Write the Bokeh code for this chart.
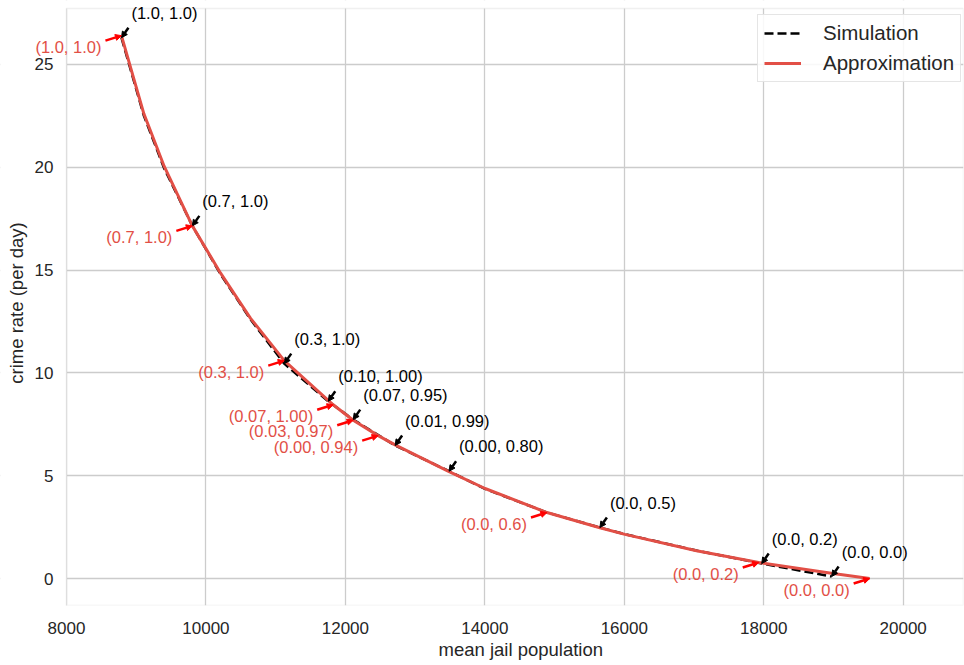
from bokeh.plotting import figure
from bokeh.models import (ColumnDataSource, Range1d, FixedTicker, Arrow, NormalHead,
                          Legend, LegendItem, Label, BoxAnnotation, Title)
from bokeh.embed import file_html
from bokeh.resources import INLINE

# ---- data ----
# simulation curve (black dashed)
sim_x = [8788, 9110, 9400, 9805, 10210, 10640, 11123, 11754, 12112, 12713, 13487,
         14003, 14887, 15650, 16010, 17036, 17971, 18974]
sim_y = [26.3, 22.5, 19.95, 17.15, 14.8, 12.6, 10.45, 8.62, 7.73, 6.47, 5.22,
         4.36, 3.22, 2.48, 2.16, 1.36, 0.73, 0.10]

# approximation curve (red solid)
app_x = [8788, 9110, 9400, 9805, 10210, 10640, 11123, 11825, 12112, 12470, 12713,
         13487, 14003, 14891, 15650, 16010, 17036, 17928, 18970, 19519]
app_y = [26.4, 22.6, 20.05, 17.15, 14.85, 12.65, 10.6, 8.45, 7.7, 6.95, 6.5,
         5.2, 4.38, 3.21, 2.47, 2.15, 1.35, 0.78, 0.26, 0.0]

# annotated simulation points
sim_pt_x = [8788, 9805, 11123, 11754, 12112, 12713, 13487, 15650, 17971, 18974]
sim_pt_y = [26.3, 17.15, 10.45, 8.62, 7.73, 6.47, 5.22, 2.48, 0.73, 0.10]
sim_labels = ["(1.0, 1.0)", "(0.7, 1.0)", "(0.3, 1.0)", "(0.10, 1.00)", "(0.07, 0.95)",
              "(0.01, 0.99)", "(0.00, 0.80)", "(0.0, 0.5)", "(0.0, 0.2)", "(0.0, 0.0)"]

# annotated approximation points
app_pt_x = [8788, 9805, 11123, 11825, 12112, 12470, 14891, 17928, 19519]
app_pt_y = [26.4, 17.15, 10.6, 8.45, 7.7, 6.95, 3.21, 0.78, 0.0]
app_labels = ["(1.0, 1.0)", "(0.7, 1.0)", "(0.3, 1.0)", "(0.07, 1.00)", "(0.03, 0.97)",
              "(0.00, 0.94)", "(0.0, 0.6)", "(0.0, 0.2)", "(0.0, 0.0)"]

x_ticks = [8000, 10000, 12000, 14000, 16000, 18000, 20000]
y_ticks = [0, 5, 10, 15, 20, 25]

RED = "#e24f46"
GRID = "#cccccc"
TXT = "#262626"
FONT = "Liberation Sans"

# axes box: x 8000..20865 over 897 px, y -1.31..27.72 over 597 px; the frame
# also spans the margins on the left and top so labels there are not clipped
XA, X1 = 8000, 20865
YA0, YA1 = -1.31, 27.72
AXW, AXH = 897, 597
LEFT, TOP = 66, 8
px_x = (X1 - XA) / AXW
px_y = (YA1 - YA0) / AXH
X0 = XA - LEFT * px_x
YTOP = YA1 + TOP * px_y

p = figure(width=964, height=665, output_backend="svg", toolbar_location=None,
           x_range=Range1d(X0, X1), y_range=Range1d(YA0, YTOP),
           min_border_left=0, min_border_right=1, min_border_top=0, min_border_bottom=60)

p.outline_line_color = None
p.background_fill_color = "white"
p.border_fill_color = "white"

for ax in (p.xaxis, p.yaxis):
    ax.axis_line_color = None
    ax.major_tick_line_color = None
    ax.minor_tick_line_color = None
    ax.major_tick_out = 0
    ax.major_tick_in = 0
    ax.minor_tick_out = 0
    ax.major_label_text_font = FONT
    ax.major_label_text_font_size = "17px"
    ax.major_label_text_color = TXT
    ax.axis_label_text_font = FONT
    ax.axis_label_text_font_size = "18.5px"
    ax.axis_label_text_font_style = "normal"
    ax.axis_label_text_color = TXT

p.xaxis.ticker = FixedTicker(ticks=x_ticks)
p.yaxis.ticker = FixedTicker(ticks=y_ticks)
p.yaxis.fixed_location = XA
p.yaxis.axis_label = "crime rate (per day)"
p.xaxis.major_label_standoff = 16
p.yaxis.major_label_standoff = 13
p.yaxis.axis_label_standoff = 5

# x axis title, centred under the axes box
p.add_layout(Title(text="mean jail population", align="left", offset=438, standoff=0,
                   text_font=FONT, text_font_size="18.5px", text_font_style="normal",
                   text_color=TXT), "below")

p.xgrid.ticker = FixedTicker(ticks=x_ticks)
p.ygrid.ticker = FixedTicker(ticks=y_ticks)
p.grid.grid_line_color = GRID
p.grid.grid_line_width = 1.3

# blank the margins outside the axes box, then draw the axes box outline
p.add_layout(BoxAnnotation(right=XA, fill_color="white", fill_alpha=1.0,
                           line_color=None, level="glyph"))
p.add_layout(BoxAnnotation(bottom=YA1, fill_color="white", fill_alpha=1.0,
                           line_color=None, level="glyph"))
p.add_layout(BoxAnnotation(left=XA, top=YA1, fill_alpha=0.0, line_color=GRID,
                           line_width=1.5, level="glyph"))

sim_line = p.line(sim_x, sim_y, line_color="black", line_width=2.5, line_dash="9 4")
app_line = p.line(app_x, app_y, line_color=RED, line_width=3)

sim_src = ColumnDataSource(dict(
    x=sim_pt_x, y=sim_pt_y,
    xs=[v + 7 * px_x for v in sim_pt_x], ys=[v + 10 * px_y for v in sim_pt_y]))
app_src = ColumnDataSource(dict(
    x=app_pt_x, y=app_pt_y,
    xs=[v - 16 * px_x for v in app_pt_x], ys=[v - 5 * px_y for v in app_pt_y]))

p.add_layout(Arrow(end=NormalHead(size=6, fill_color="black", line_color="black"),
                   x_start="xs", y_start="ys", x_end="x", y_end="y",
                   line_color="black", line_width=2.5, source=sim_src))
p.add_layout(Arrow(end=NormalHead(size=6, fill_color="red", line_color="red"),
                   x_start="xs", y_start="ys", x_end="x", y_end="y",
                   line_color="red", line_width=2.5, source=app_src))

for xv, yv, t in zip(sim_pt_x, sim_pt_y, sim_labels):
    p.add_layout(Label(x=xv, y=yv, text=t, x_offset=10, y_offset=25,
                       text_align="left", text_baseline="middle", text_color="black",
                       text_font=FONT, text_font_size="16.5px"))
for xv, yv, t in zip(app_pt_x, app_pt_y, app_labels):
    p.add_layout(Label(x=xv, y=yv, text=t, x_offset=-20, y_offset=-11,
                       text_align="right", text_baseline="middle", text_color=RED,
                       text_font=FONT, text_font_size="16.5px"))

legend = Legend(items=[LegendItem(label="Simulation", renderers=[sim_line]),
                       LegendItem(label="Approximation", renderers=[app_line])],
                location=(LEFT + 691, 523))
legend.margin = 0
legend.padding = 6
legend.spacing = 6
legend.glyph_width = 37
legend.glyph_height = 20
legend.label_height = 20
legend.label_standoff = 22
legend.label_text_font = FONT
legend.label_text_font_size = "20.5px"
legend.label_text_color = TXT
legend.border_line_color = GRID
legend.border_line_width = 1
legend.background_fill_alpha = 0.85
p.add_layout(legend)

open("out.html", "w").write(file_html(p, INLINE))
